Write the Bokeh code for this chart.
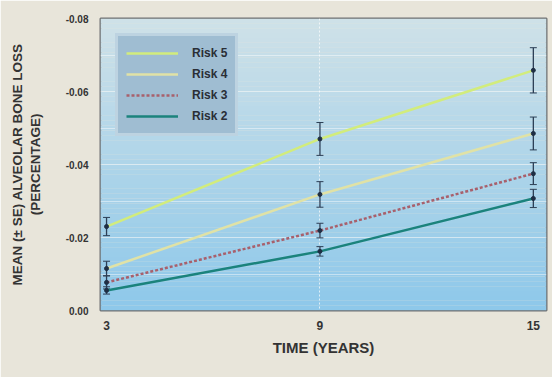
import numpy as np
from bokeh.plotting import figure
from bokeh.models import (Range1d, FixedTicker, NumeralTickFormatter, Whisker,
                          ColumnDataSource, Legend, LegendItem)
from bokeh.embed import file_html
from bokeh.resources import INLINE

# Years of follow-up
years = [3, 9, 15]

# Mean alveolar bone loss (percentage) and standard errors per risk group
risk5_mean = [-0.023, -0.047, -0.0658]
risk5_se = [0.0025, 0.0045, 0.0062]
risk4_mean = [-0.0115, -0.0318, -0.0485]
risk4_se = [0.002, 0.0035, 0.0045]
risk3_mean = [-0.0077, -0.0219, -0.0375]
risk3_se = [0.0018, 0.002, 0.003]
risk2_mean = [-0.0055, -0.0162, -0.0307]
risk2_se = [0.001, 0.0013, 0.0025]

series = [
    ("Risk 5", risk5_mean, risk5_se, "#d2ec7c", "solid"),
    ("Risk 4", risk4_mean, risk4_se, "#e0e2a6", "solid"),
    ("Risk 3", risk3_mean, risk3_se, "#a8606c", "3 2"),
    ("Risk 2", risk2_mean, risk2_se, "#1b837c", "solid"),
]

FONT = "Liberation Sans"
TEXT = "#333333"

p = figure(width=552, height=377, output_backend="svg", toolbar_location=None,
           x_range=Range1d(2.83, 15.37), y_range=Range1d(0.0, -0.08),
           min_border_left=100, min_border_right=6, min_border_top=18,
           min_border_bottom=67)
p.background_fill_color = "#e8e5da"
p.border_fill_color = "#e8e5da"
p.outline_line_color = "#6e7072"
p.outline_line_width = 2

# Vertical gradient for the plotting area, drawn as thin bands
n_bands = 60
edges = np.linspace(0.0, -0.08, n_bands + 1)
t = np.linspace(0, 1, n_bands)
bottom_rgb = np.array([142, 200, 234])
top_rgb = np.array([206, 225, 232])
band_colors = ["#%02x%02x%02x" % tuple(int(round(c)) for c in (bottom_rgb + (top_rgb - bottom_rgb) * ti))
               for ti in t]
p.quad(left=2.83, right=15.37, bottom=edges[:-1], top=edges[1:],
       fill_color=band_colors, line_color=None, level="underlay")

# Axes
p.xaxis.ticker = FixedTicker(ticks=years)
p.yaxis.ticker = FixedTicker(ticks=[0.0, -0.02, -0.04, -0.06, -0.08])
p.yaxis.formatter = NumeralTickFormatter(format="0.00")
for ax in (p.xaxis, p.yaxis):
    ax.axis_line_color = None
    ax.major_tick_line_color = None
    ax.minor_tick_line_color = None
    ax.major_label_text_font = FONT
    ax.major_label_text_font_style = "bold"
    ax.major_label_text_color = TEXT
    ax.axis_label_text_font = FONT
    ax.axis_label_text_font_style = "bold"
    ax.axis_label_text_color = TEXT
p.xaxis.major_label_text_font_size = "12px"
p.yaxis.major_label_text_font_size = "10px"
p.xaxis.major_label_standoff = 4
p.yaxis.major_label_standoff = 6
p.xaxis.axis_label = "TIME (YEARS)"
p.xaxis.axis_label_text_font_size = "15px"
p.xaxis.axis_label_standoff = 6
p.yaxis.axis_label = "MEAN (\u00b1 SE) ALVEOLAR BONE LOSS\n(PERCENTAGE)"
p.yaxis.axis_label_text_font_size = "13.5px"
p.yaxis.axis_label_standoff = 20

# Grid lines
p.xgrid.ticker = FixedTicker(ticks=[9])
p.xgrid.grid_line_color = "white"
p.xgrid.grid_line_alpha = 0.7
p.xgrid.grid_line_dash = "2 2"
p.ygrid.ticker = FixedTicker(ticks=[-0.01, -0.02, -0.03, -0.04, -0.05, -0.06, -0.07])
p.ygrid.grid_line_color = "white"
p.ygrid.grid_line_alpha = 0.45
p.ygrid.grid_line_width = 1

items = []
for name, mean, se, color, dash in series:
    upper = [m - s for m, s in zip(mean, se)]
    lower = [m + s for m, s in zip(mean, se)]
    src = ColumnDataSource(dict(x=years, y=mean, upper=upper, lower=lower))
    r = p.line("x", "y", source=src, line_color=color, line_width=2.5, line_dash=dash)
    items.append(LegendItem(label=name, renderers=[r]))
    w = Whisker(base="x", upper="upper", lower="lower", source=src,
                line_color="#2c3e55", line_width=1.3)
    w.upper_head.size = 7
    w.lower_head.size = 7
    w.upper_head.line_color = "#2c3e55"
    w.lower_head.line_color = "#2c3e55"
    p.add_layout(w)
    p.scatter("x", "y", source=src, size=4, color="#1e2e44")

legend = Legend(items=items, location="top_left")
legend.background_fill_color = "#9fbdd2"
legend.background_fill_alpha = 1.0
legend.border_line_color = "#dce9f0"
legend.border_line_width = 3
legend.label_text_font = FONT
legend.label_text_font_style = "bold"
legend.label_text_font_size = "12px"
legend.label_text_color = "#2a2e36"
legend.glyph_width = 52
legend.label_standoff = 14
legend.spacing = 3
legend.label_height = 18
legend.glyph_height = 18
legend.padding = 8
legend.margin = 15
p.add_layout(legend)

open("out.html", "w").write(file_html(p, INLINE))
